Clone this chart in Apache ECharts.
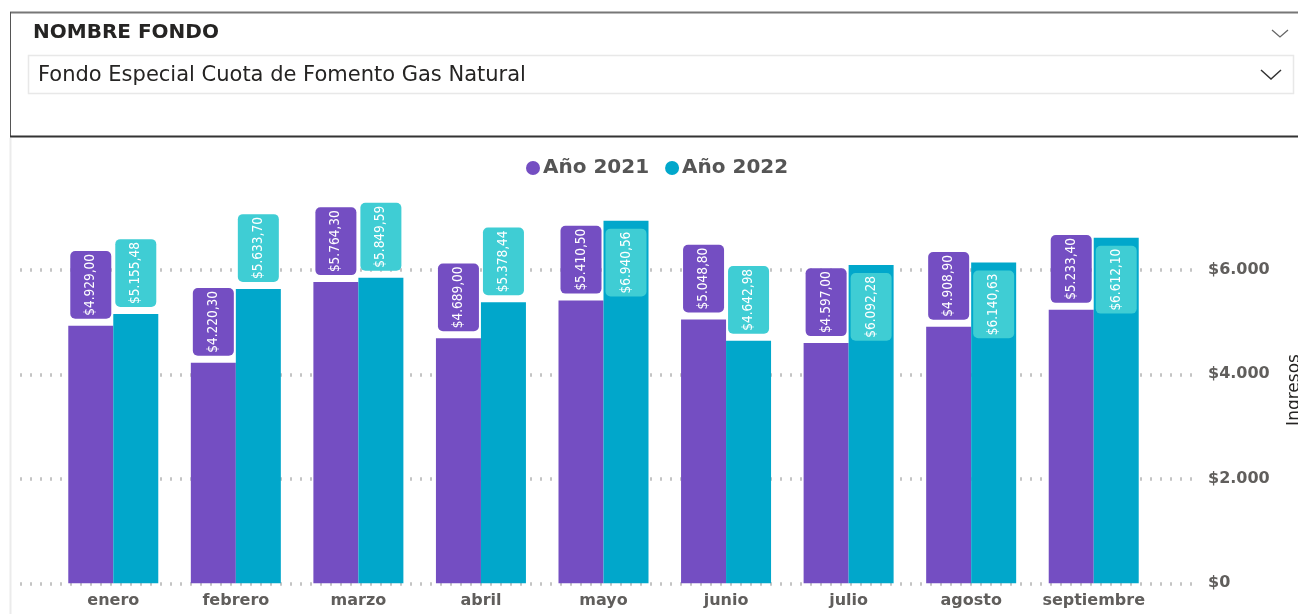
<!DOCTYPE html>
<html>
<head>
<meta charset="utf-8">
<script src="https://cdn.jsdelivr.net/npm/echarts@6/dist/echarts.min.js"></script>
<style>
  html, body { margin: 0; padding: 0; background: #fff; }
  #chart { width: 1298px; height: 614px; }
</style>
</head>
<body>
<div id="chart"></div>
<script>
const categories = ['enero', 'febrero', 'marzo', 'abril', 'mayo', 'junio', 'julio', 'agosto', 'septiembre'];
const values2021 = [4929.00, 4220.30, 5764.30, 4689.00, 5410.50, 5048.80, 4597.00, 4908.90, 5233.40];
const values2022 = [5155.48, 5633.70, 5849.59, 5378.44, 6940.56, 4642.98, 6092.28, 6140.63, 6612.10];
const seriesNames = ['Año 2021', 'Año 2022'];
const sliceTitle = 'NOMBRE FONDO';
const sliceValue = 'Fondo Especial Cuota de Fomento Gas Natural';
const axisTitle = 'Ingresos';

const C2021 = '#744EC2';
const C2022 = '#01A7CB';
const LBL2022 = '#3FCDD4';
const INSIDE_ABOVE = 6000; // labels of taller bars sit inside the bar top
const labelFont = "'Liberation Sans Narrow', 'DejaVu Sans Condensed', 'Roboto', sans-serif";

function fmtMoney(v) {
  const parts = v.toFixed(2).split('.');
  const int = parts[0].replace(/\B(?=(\d{3})+(?!\d))/g, '.');
  return '$' + int + ',' + parts[1];
}
function fmtAxis(v) {
  return '$' + String(Math.round(v)).replace(/\B(?=(\d{3})+(?!\d))/g, '.');
}

function baseLabel(bg) {
  return {
    show: true,
    position: 'top',
    distance: 7,
    rotate: 90,
    align: 'left',
    verticalAlign: 'middle',
    color: '#ffffff',
    fontFamily: labelFont,
    fontSize: 13.5,
    lineHeight: 17,
    backgroundColor: bg,
    borderRadius: 5,
    padding: [12, 3],
    formatter: p => fmtMoney(p.value)
  };
}
function toItems(arr) {
  return arr.map(v => v > INSIDE_ABOVE
    ? { value: v, label: { position: 'insideTop', align: 'right', distance: 8 } }
    : { value: v });
}

const chart = echarts.init(document.getElementById('chart'), null, { renderer: 'canvas' });

const TOP = 165.3, BOTTOM = 30.7;

const option = {
  animation: false,
  backgroundColor: '#ffffff',
  textStyle: { fontFamily: 'DejaVu Sans' },
  legend: {
    left: 521,
    top: 153,
    icon: 'circle',
    itemWidth: 14,
    itemHeight: 14,
    itemGap: 16,
    textStyle: { fontFamily: 'DejaVu Sans', fontWeight: 'bold', fontSize: 20, color: '#555555', padding: [0, 0, 0, -2] },
    data: seriesNames
  },
  grid: [
    { left: 20, right: 106, top: TOP, bottom: BOTTOM },
    { left: 52, right: 143, top: TOP, bottom: BOTTOM }
  ],
  xAxis: [
    { type: 'category', gridIndex: 0, show: false, data: categories },
    {
      type: 'category', gridIndex: 1, data: categories,
      axisLine: { show: false }, axisTick: { show: false },
      axisLabel: { interval: 0, margin: 10, fontFamily: 'DejaVu Sans', fontWeight: 'bold', fontSize: 16, color: '#605E5C' }
    }
  ],
  yAxis: [
    {
      type: 'value', gridIndex: 0, position: 'right', min: 0, max: 8000, interval: 2000,
      axisLine: { show: false }, axisTick: { show: false },
      splitLine: { show: true, showMaxLine: false, lineStyle: { color: '#c4c4c4', width: 3.5, type: [2, 8] } },
      axisLabel: {
        showMaxLabel: false, margin: 16, fontFamily: 'DejaVu Sans', fontWeight: 'bold', fontSize: 16, color: '#605E5C',
        formatter: v => fmtAxis(v)
      }
    },
    { type: 'value', gridIndex: 1, min: 0, max: 8000, interval: 2000, show: false, splitLine: { show: false } }
  ],
  series: [
    {
      name: seriesNames[0], type: 'bar', xAxisIndex: 1, yAxisIndex: 1,
      barWidth: 45, barGap: '0%',
      itemStyle: { color: C2021 },
      label: baseLabel(C2021),
      data: toItems(values2021)
    },
    {
      name: seriesNames[1], type: 'bar', xAxisIndex: 1, yAxisIndex: 1,
      barWidth: 45, barGap: '0%',
      itemStyle: { color: C2022 },
      label: baseLabel(LBL2022),
      data: toItems(values2022)
    }
  ],
  graphic: [
    { type: 'line', shape: { x1: 10, y1: 12.5, x2: 1298, y2: 12.5 }, style: { stroke: '#777777', lineWidth: 2 } },
    { type: 'line', shape: { x1: 10.5, y1: 12, x2: 10.5, y2: 137 }, style: { stroke: '#555555', lineWidth: 1 } },
    { type: 'line', shape: { x1: 10, y1: 136.5, x2: 1298, y2: 136.5 }, style: { stroke: '#333333', lineWidth: 2 } },
    { type: 'text', x: 33, y: 33, style: { text: sliceTitle, font: '600 20px "DejaVu Sans"', fill: '#252423', verticalAlign: 'middle' } },
    { type: 'polyline', shape: { points: [[1272, 30], [1280, 37], [1288, 30]] }, style: { stroke: '#666666', lineWidth: 1.3, fill: null } },
    { type: 'rect', shape: { x: 28.5, y: 55.5, width: 1265, height: 38 }, style: { stroke: '#e8e8e8', lineWidth: 1.5, fill: '#ffffff' } },
    { type: 'text', x: 38, y: 76, style: { text: sliceValue, font: '21px "DejaVu Sans"', fill: '#252423', verticalAlign: 'middle' } },
    { type: 'polyline', shape: { points: [[1261, 70], [1271, 79], [1281, 70]] }, style: { stroke: '#333333', lineWidth: 1.5, fill: null } },
    { type: 'line', shape: { x1: 10.5, y1: 138, x2: 10.5, y2: 614 }, style: { stroke: '#ebebeb', lineWidth: 2 } },
    { type: 'text', x: 1295, y: 390, rotation: Math.PI / 2, style: { text: axisTitle, font: '17px "DejaVu Sans"', fill: '#252423', align: 'center', verticalAlign: 'middle' } }
  ]
};
chart.setOption(option);
</script>
</body>
</html>
